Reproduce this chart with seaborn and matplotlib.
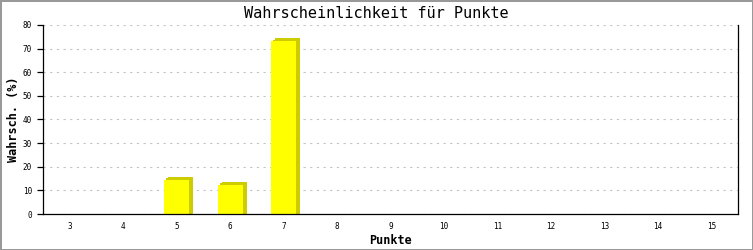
import matplotlib
matplotlib.use("Agg")
import matplotlib.pyplot as plt
import matplotlib.transforms as mtransforms
from matplotlib.patches import Rectangle
import seaborn as sns
import pandas as pd

categories = ["3", "4", "5", "6", "7", "8", "9", "10", "11", "12", "13", "14", "15"]
values = [0, 0, 14.5, 12.3, 73.2, 0, 0, 0, 0, 0, 0, 0, 0]
yticks = [0, 10, 20, 30, 40, 50, 60, 70, 80]
title = "Wahrscheinlichkeit für Punkte"
xlabel = "Punkte"
ylabel = "Wahrsch. (%)"

df = pd.DataFrame({"Punkte": categories, "Wert": values})

sns.set_style("white")
plt.rcParams["font.family"] = ["DejaVu Sans Mono", "DejaVu Sans"]
plt.rcParams["text.color"] = "black"
plt.rcParams["axes.labelcolor"] = "black"

fig = plt.figure(figsize=(7.53, 2.5), dpi=100)
ax = fig.add_axes([43 / 753, 1 - 214 / 250, (738 - 43) / 753, (214 - 25) / 250])

sns.barplot(data=df, x="Punkte", y="Wert", color="#FFFF00", width=0.47,
            saturation=1, ax=ax, order=categories)

dpi = fig.dpi
bars = list(ax.patches)
for p in bars:
    p.set_edgecolor("none")
    p.set_linewidth(0)
    p.set_zorder(3)
    if p.get_height() <= 0:
        continue
    # 3D-like shadow: offset copies of the bar
    for dx, dy in [(4, 3), (4, 0), (2, 1.5)]:
        off = mtransforms.ScaledTranslation(dx / dpi, dy / dpi, fig.dpi_scale_trans)
        sh = Rectangle(p.get_xy(), p.get_width(), p.get_height(),
                       facecolor="#CCCC00", edgecolor="none", linewidth=0,
                       transform=ax.transData + off, zorder=2)
        ax.add_patch(sh)

ax.set_ylim(0, 80)
ax.set_xlim(-0.5, len(categories) - 0.5)
ax.set_yticks(yticks)
ax.set_yticklabels([str(v) for v in yticks])
ax.yaxis.grid(True, color="#c4c4c4", linestyle=(0, (2, 4)), linewidth=0.8)
ax.set_axisbelow(True)

for side in ["left", "bottom", "right"]:
    ax.spines[side].set_visible(True)
    ax.spines[side].set_color("black")
    ax.spines[side].set_linewidth(0.9)
ax.spines["top"].set_visible(False)
ax.spines["bottom"].set_zorder(5)

ax.tick_params(axis="y", which="both", left=True, length=4, width=0.9,
               pad=4, labelsize=5.5, colors="black")
ax.tick_params(axis="x", which="both", bottom=False, length=0, pad=6,
               labelsize=5.5, colors="black")

ax.set_xlabel(xlabel, fontsize=8.5, fontweight="bold", va="center", color="black")
ax.set_ylabel(ylabel, fontsize=8.5, fontweight="bold", va="center", color="black")
ax.xaxis.set_label_coords(0.5, (214 - 240) / 189)
ax.yaxis.set_label_coords((13 - 43) / 695, 0.5)
fig.text(0.5, 1 - 13 / 250, title, ha="center", va="center", fontsize=11,
         color="black")

fig.patch.set_facecolor("white")
fig.patch.set_edgecolor("#999999")
fig.patch.set_linewidth(2)

fig.savefig("out.png", dpi=100, facecolor=fig.get_facecolor(),
            edgecolor=fig.get_edgecolor())
